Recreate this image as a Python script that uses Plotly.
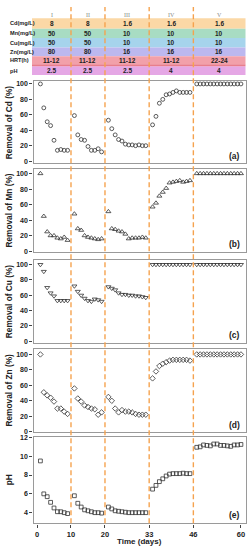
import plotly.graph_objects as go

# ---------------- data ----------------
days = [1, 2, 3, 4, 5, 6, 7, 8, 9,
        11, 12, 13, 14, 15, 16, 17, 18, 19,
        21, 22, 23, 24, 25, 26, 27, 28, 29, 30, 31, 32,
        34, 35, 36, 37, 38, 39, 40, 41, 42, 43, 44, 45,
        47, 48, 49, 50, 51, 52, 53, 54, 55, 56, 57, 58, 59, 60]

cd_removal = [100, 69, 51, 46, 27, 14, 15, 14, 14,
              59, 34, 28, 27, 19, 14, 14, 16, 12,
              53, 42, 34, 28, 26, 22, 21, 21, 20, 21, 20, 20,
              47, 58, 75, 80, 86, 87, 89, 91, 89, 89, 89, 89,
              100, 100, 100, 100, 100, 100, 100, 100, 100, 100, 100, 100, 100, 100]

mn_removal = [100, 45, 25, 20, 20, 17, 16, 18, 14,
              48, 29, 27, 20, 18, 17, 16, 15, 16,
              51, 29, 28, 26, 25, 22, 16, 17, 17, 17, 18, 17,
              57, 62, 71, 76, 81, 88, 89, 90, 91, 89, 90, 91,
              100, 100, 100, 100, 100, 100, 100, 100, 100, 100, 100, 100, 100, 100]

cu_removal = [100, 91, 70, 63, 59, 53, 53, 53, 53,
              72, 65, 60, 56, 53, 52, 55, 54, 52,
              71, 69, 67, 63, 61, 61, 60, 60, 59, 59, 58, 57,
              100, 100, 100, 100, 100, 100, 100, 100, 100, 100, 100, 100,
              100, 100, 100, 100, 100, 100, 100, 100, 100, 100, 100, 100, 100, 100]

zn_removal = [100, 51, 47, 44, 39, 30, 30, 26, 23,
              56, 43, 39, 34, 32, 30, 29, 22, 25,
              45, 40, 30, 25, 28, 26, 26, 25, 23, 22, 22, 22,
              69, 78, 85, 88, 90, 92, 93, 93, 93, 93, 93, 92,
              100, 100, 100, 100, 100, 100, 100, 100, 100, 100, 100, 100, 100, 100]

ph_values = [9.5, 6.0, 5.7, 5.1, 4.5, 4.1, 4.1, 4.0, 3.9,
             5.8, 5.0, 4.6, 4.3, 4.2, 4.1, 4.0, 4.0, 3.95,
             4.6, 4.4, 4.2, 4.15, 4.1, 4.05, 4.0, 4.0, 4.0, 4.0, 4.0, 4.0,
             6.5, 6.9, 7.3, 7.6, 7.9, 8.1, 8.15, 8.15, 8.15, 8.2, 8.15, 8.15,
             10.95, 11.0, 11.2, 11.15, 11.1, 11.3, 11.3, 11.15, 11.15, 11.1, 11.05, 11.2, 11.2, 11.25]

phase_bounds = [10, 20, 33, 46]
x_ticks = [0, 10, 20, 33, 46, 60]
phase_names = ["I", "II", "III", "IV", "V"]
phase_centers = [4.3, 15, 26.5, 39.5, 53.6]

table_rows = ["Cd(mg/L)", "Mn(mg/L)", "Cu(mg/L)", "Zn(mg/L)", "HRT(h)", "pH"]
table_values = [
    ["8", "8", "1.6", "1.6", "1.6"],
    ["50", "50", "10", "10", "10"],
    ["50", "50", "10", "10", "10"],
    ["80", "80", "16", "16", "16"],
    ["11-12", "11-12", "11-12", "11-12", "22-24"],
    ["2.5", "2.5", "2.5", "4", "4"],
]

panel_titles = ["Removal of Cd (%)", "Removal of Mn (%)", "Removal of Cu (%)",
                "Removal of Zn (%)", "pH"]
panel_labels = ["(a)", "(b)", "(c)", "(d)", "(e)"]

# ---------------- layout helpers ----------------
W, H = 251, 550
def pyf(p):
    return 1 - p / H
def pxf(p):
    return p / W

FONT = "Liberation Sans"
x_dom = [pxf(33.5), pxf(245.7)]
x_range = [-1.03, 61.4]

# pixel top/bottom of each panel, y range
panel_px = [(78, 161.5), (167, 251.5), (259, 343), (349, 434), (439, 526)]
panel_ranges = [[-3, 103.8], [-1.5, 106], [-1.7, 106.4], [-1, 107.6], [2.87, 12]]
panel_ticks = [[0, 20, 40, 60, 80, 100]] * 4 + [[4, 6, 8, 10, 12]]
series = [cd_removal, mn_removal, cu_removal, zn_removal, ph_values]
symbols = ["circle-open", "triangle-up-open", "triangle-down-open", "diamond-open", "square-open"]
sizes = [3.9, 4.4, 4.4, 4.2, 3.8]

fig = go.Figure()
layout = dict(
    width=W, height=H,
    margin=dict(l=0, r=0, t=0, b=0),
    paper_bgcolor="white", plot_bgcolor="white",
    showlegend=False,
    font=dict(family=FONT, color="#222"),
)

# panel e uses x/y (bottom), panels a-d use x2..x5/y2..y5
axis_ids = ["2", "3", "4", "5", ""]
for i in range(5):
    aid = axis_ids[i]
    top, bot = panel_px[i]
    fig.add_trace(go.Scatter(
        x=days, y=series[i], mode="markers",
        xaxis="x" + aid, yaxis="y" + aid,
        marker=dict(symbol=symbols[i], size=sizes[i], color="#333",
                    line=dict(width=0.8, color="#333")),
        hoverinfo="skip",
    ))
    xa = dict(domain=x_dom, range=x_range, anchor="y" + aid,
              showgrid=False, zeroline=False, showline=True, mirror=True,
              linecolor="#9a9a9a", linewidth=1.4)
    if aid == "":
        xa.update(tickvals=x_ticks, ticks="outside", ticklen=3, tickwidth=1,
                  tickcolor="#444",
                  tickfont=dict(family=FONT, size=7.5, color="#222", weight="bold"))
    else:
        xa.update(matches="x", showticklabels=False, ticks="")
    ya = dict(domain=[pyf(bot), pyf(top)], range=panel_ranges[i],
              anchor="x" + aid, tickvals=panel_ticks[i],
              showgrid=False, zeroline=False, showline=True, mirror=True,
              linecolor="#9a9a9a", linewidth=1.4,
              ticks="outside", ticklen=3, tickwidth=1, tickcolor="#444",
              tickfont=dict(family=FONT, size=7, color="#222", weight="bold"))
    layout["xaxis" + aid] = xa
    layout["yaxis" + aid] = ya

shapes = []
annotations = []

# table rows
row_px = [(14.5, 25), (25, 34.5), (34.5, 44), (44, 53), (53, 61), (63, 72)]
row_colors = ["#FBD8A6", "#A8DCC3", "#A6D4EC", "#BCB8EF", "#F2A0AA", "#E5A7E5"]
for (t, b), c in zip(row_px, row_colors):
    shapes.append(dict(type="rect", xref="paper", yref="paper",
                       x0=pxf(32), x1=pxf(245.5), y0=pyf(b), y1=pyf(t),
                       fillcolor=c, line=dict(width=0), layer="below"))
shapes.append(dict(type="rect", xref="paper", yref="paper",
                   x0=pxf(32), x1=pxf(245.5), y0=pyf(63), y1=pyf(61),
                   fillcolor="#E97E8C", line=dict(width=0), layer="below"))

for r, name in enumerate(table_rows):
    t, b = row_px[r]
    yc = pyf((t + b) / 2)
    annotations.append(dict(text="<b>%s</b>" % name, xref="paper", yref="paper",
                            x=pxf(8), y=yc, xanchor="left", yanchor="middle",
                            showarrow=False,
                            font=dict(family=FONT, size=5.6, color="#222")))
    for c, val in enumerate(table_values[r]):
        annotations.append(dict(text="<b>%s</b>" % val, xref="x", yref="paper",
                                x=phase_centers[c], y=yc, xanchor="center",
                                yanchor="middle", showarrow=False,
                                font=dict(family=FONT, size=6.5, color="#222")))

for c, name in enumerate(phase_names):
    annotations.append(dict(text=name, xref="x", yref="paper",
                            x=phase_centers[c], y=pyf(11), xanchor="center",
                            yanchor="middle", showarrow=False,
                            font=dict(family="Liberation Serif", size=6, color="#888")))

# dashed phase boundaries through table and all panels
for xb in phase_bounds:
    shapes.append(dict(type="line", xref="x", yref="paper",
                       x0=xb, x1=xb, y0=pyf(526), y1=pyf(3),
                       line=dict(color="#F5A24E", width=1.4, dash="5px,3px"),
                       layer="above"))

# y titles and panel labels
for i in range(5):
    top, bot = panel_px[i]
    annotations.append(dict(text="<b>%s</b>" % panel_titles[i], xref="paper", yref="paper",
                            x=pxf(9), y=pyf((top + bot) / 2), textangle=-90,
                            xanchor="center", yanchor="middle", showarrow=False,
                            font=dict(family=FONT, size=8.3, color="#222")))
    annotations.append(dict(text="<b>%s</b>" % panel_labels[i], xref="paper", yref="paper",
                            x=pxf(242), y=pyf(bot - 8), xanchor="right",
                            yanchor="middle", showarrow=False,
                            font=dict(family=FONT, size=8.5, color="#222")))

annotations.append(dict(text="<b>Time (days)</b>", xref="paper", yref="paper",
                        x=(x_dom[0] + x_dom[1]) / 2, y=pyf(544), xanchor="center",
                        yanchor="middle", showarrow=False,
                        font=dict(family=FONT, size=8, color="#222")))

layout["shapes"] = shapes
layout["annotations"] = annotations
fig.update_layout(**layout)
fig.write_html("out.html",
               config={"displayModeBar": False},
               post_script="document.body.style.margin='0';document.body.style.overflow='hidden';")
